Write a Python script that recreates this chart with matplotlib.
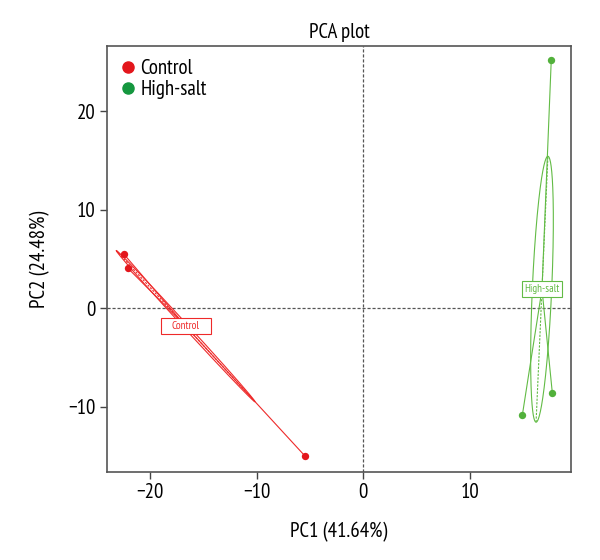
import numpy as np
import matplotlib
matplotlib.use("Agg")
import matplotlib.pyplot as plt
from matplotlib.lines import Line2D
from matplotlib.patches import Rectangle

plt.rcParams['font.family'] = ['PT Sans Narrow', 'Fira Sans Condensed', 'DejaVu Sans']

# Data
groups = ["Control", "High-salt"]
control_pc1 = [-22.45, -22.1, -5.45]
control_pc2 = [5.5, 4.1, -15.05]
highsalt_pc1 = [17.6, 17.7, 14.9]
highsalt_pc2 = [25.2, -8.6, -10.8]
xticks = [-20, -10, 0, 10]
yticks = [-10, 0, 10, 20]

pt_colors = {"Control": "#E3161C", "High-salt": "#52B13B"}
ln_colors = {"Control": "#EE2A2A", "High-salt": "#62BB45"}
lg_colors = {"Control": "#E3161C", "High-salt": "#15973F"}
box_hpad = {"Control": 11, "High-salt": 2}   # pixels
box_vpad = 3
ell_scale = 0.82

fig = plt.figure(figsize=(6.0, 5.6), dpi=100)
ax = fig.add_axes([0.178, 0.157, 0.774, 0.760])

ax.axhline(0, color="#555555", lw=0.9, ls=(0, (2.5, 1.5)), zorder=1)
ax.axvline(0, color="#555555", lw=0.9, ls=(0, (2.5, 1.5)), zorder=1)

ax.set_xlim(-24.05, 19.47)
ax.set_ylim(-16.65, 26.6)

data = {"Control": (control_pc1, control_pc2), "High-salt": (highsalt_pc1, highsalt_pc2)}
labels = []
for g in groups:
    x = np.array(data[g][0]); y = np.array(data[g][1])
    cx, cy = x.mean(), y.mean()
    c = ln_colors[g]
    for xi, yi in zip(x, y):
        ax.plot([cx, xi], [cy, yi], color=c, lw=0.8, zorder=2)
    cov = np.cov(np.vstack([x, y]), bias=True)
    vals, vecs = np.linalg.eigh(cov)
    t = np.linspace(0, 2 * np.pi, 300)
    circ = np.vstack([np.cos(t), np.sin(t)])
    pts = vecs @ (np.sqrt(vals)[:, None] * ell_scale * circ)
    ax.plot(cx + pts[0], cy + pts[1], color=c, lw=0.8, zorder=2)
    for k in range(2):
        v = vecs[:, k] * np.sqrt(vals[k]) * ell_scale
        ax.plot([cx - v[0], cx + v[0]], [cy - v[1], cy + v[1]], color=c, lw=0.8,
                ls=(0, (2, 1.2)), zorder=2)
    ax.scatter(x, y, s=28, color=pt_colors[g], zorder=3, linewidths=0)
    txt = ax.text(cx, cy, g, fontsize=8, color=c, ha="center", va="center", zorder=5)
    labels.append((g, txt))

ax.set_xticks(xticks)
ax.set_yticks(yticks)
ax.set_xticklabels(["\u221220", "\u221210", "0", "10"])
ax.set_yticklabels(["\u221210", "0", "10", "20"])
ax.tick_params(labelsize=15, length=5, width=1, color="#444444", pad=3)
for s in ax.spines.values():
    s.set_color("#555555")
    s.set_linewidth(1.2)

ax.set_xlabel("PC1 (41.64%)", fontsize=15, labelpad=14)
ax.set_ylabel("PC2 (24.48%)", fontsize=15, labelpad=13)
ax.set_title("PCA plot", fontsize=15, pad=6)

handles = [Line2D([], [], marker="o", ls="", color=lg_colors[g], markersize=8) for g in groups]
ax.legend(handles, groups, loc="upper left", bbox_to_anchor=(0.0, 0.99), frameon=False,
          fontsize=15, handletextpad=0.0, borderaxespad=0.1, labelspacing=0.1,
          handlelength=1.2, borderpad=0.3)

fig.canvas.draw()
r = fig.canvas.get_renderer()
inv = ax.transData.inverted()
for g, txt in labels:
    bb = txt.get_window_extent(renderer=r)
    x0, y0 = inv.transform((bb.x0 - box_hpad[g], bb.y0 - box_vpad))
    x1, y1 = inv.transform((bb.x1 + box_hpad[g], bb.y1 + box_vpad))
    ax.add_patch(Rectangle((x0, y0), x1 - x0, y1 - y0, fc="white",
                           ec=ln_colors[g], lw=0.8, zorder=4))

fig.savefig("out.png", dpi=100)
